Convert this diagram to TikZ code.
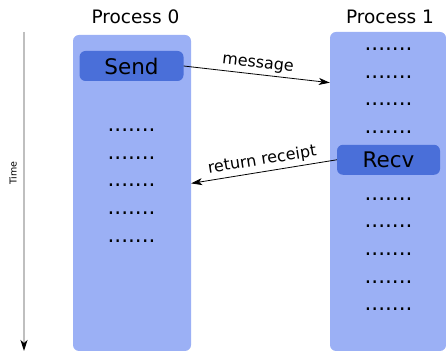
\documentclass[tikz,border=0pt]{standalone}
\usepackage{fontspec}
\setmainfont{DejaVu Sans}
\usetikzlibrary{arrows.meta,positioning}
\definecolor{procfill}{RGB}{155,176,245}
\definecolor{opfill}{RGB}{74,111,217}
\tikzset{
    proc/.style={fill=procfill, rounded corners=6pt, inner sep=0pt},
    op/.style={fill=opfill, rounded corners=6pt, minimum width=104pt, minimum height=30pt, inner sep=0pt, font=\fontsize{21.5}{21.5}\selectfont},
    dots/.style={inner sep=0pt, font=\fontsize{21.5}{21.5}\selectfont},
    title/.style={anchor=base, font=\fontsize{18.5}{18.5}\selectfont},
    msg/.style={-{Stealth[length=11pt, width=7pt, inset=3pt]}, line width=0.8pt},
    lbl/.style={font=\fontsize{16}{16}\selectfont, sloped, above, midway}
}

\begin{document}
\begin{tikzpicture}[x=1pt, y=1pt, on grid, node distance=27.7pt]
        \useasboundingbox (0,0) rectangle (446,352);
        % time axis
        \coordinate (ttop) at (24,320);
        \coordinate (tbot) at (24,1);
        \draw[gray!50, line width=1.2pt, -{Stealth[black, length=11pt, width=7pt, inset=3pt]}] (ttop) -- (tbot);
        \node[rotate=90, font=\fontsize{9.5}{9.5}\selectfont] (time) at (13,179) {Time};

        % process columns
        \node[proc, minimum width=118pt, minimum height=316pt] (col0) at (132,159) {};
        \node[proc, minimum width=116pt, minimum height=319pt] (col1) at (388,160.5) {};
        \node[title] (title0) at (135.5,328.7) {Process 0};
        \node[title] (title1) at (390,328.7) {Process 1};

        % process 0
        \node[op] (send) at (131.5,286) {Send};
        \node[dots, below=64pt of send] (l1) {.......};
        \node[dots, below=of l1] (l2) {.......};
        \node[dots, below=of l2] (l3) {.......};
        \node[dots, below=of l3] (l4) {.......};
        \node[dots, below=of l4] (l5) {.......};

        % process 1
        \node[dots] (r1) at (388.5,303) {.......};
        \node[dots, below=of r1] (r2) {.......};
        \node[dots, below=of r2] (r3) {.......};
        \node[dots, below=of r3] (r4) {.......};
        \node[op, minimum width=103pt, below=of r4] (recv) {Recv};
        \node[dots, below=39pt of recv] (r5) {.......};
        \node[dots, below=of r5] (r6) {.......};
        \node[dots, below=of r6] (r7) {.......};
        \node[dots, below=of r7] (r8) {.......};
        \node[dots, below=of r8] (r9) {.......};

        % messages
        \coordinate (msgend) at ([yshift=-6pt]col1.west |- r2);
        \coordinate (rcptend) at ([yshift=2pt]col0.east |- l3);
        \draw[msg] (send.east) -- (msgend) node[lbl] {message};
        \draw[msg] (recv.west) -- (rcptend) node[lbl] {return receipt};
\end{tikzpicture}
\end{document}
